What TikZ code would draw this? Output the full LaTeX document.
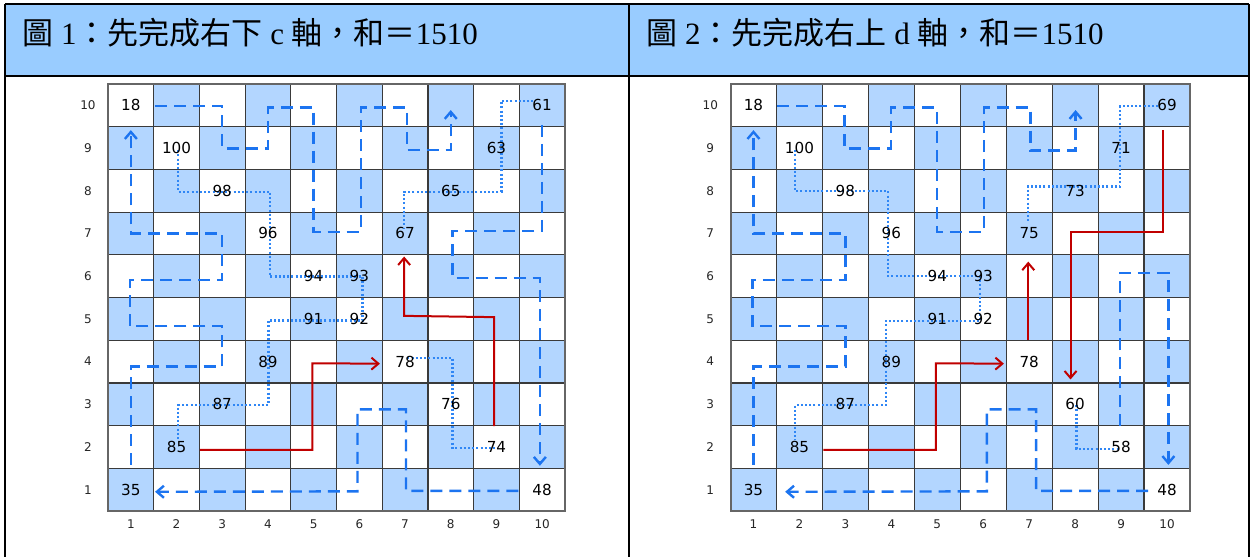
\documentclass[tikz,border=0pt]{standalone}
\usepackage{fontspec}
\setmainfont{Liberation Serif}
\newfontfamily\cjk{Noto Sans CJK TC}
\newfontfamily\numfont{DejaVu Sans}
\usetikzlibrary{arrows.meta}
\definecolor{hdrblue}{HTML}{99CCFF}
\definecolor{cellblue}{HTML}{B3D6FF}
\definecolor{pathblue}{HTML}{1C74F0}
\definecolor{dotblue}{HTML}{2F86F5}
\definecolor{pathred}{HTML}{C00000}
\definecolor{gridgray}{HTML}{3A3A3A}
\tikzset{
  tablerule/.style={line width=1pt, black},
  cellfill/.style={fill=cellblue},
  gridrule/.style={line width=0.6pt, gridgray},
  gridframe/.style={line width=1pt, gray!80!black},
  dashpath/.style={pathblue, line width=1.2pt, dash pattern=on 6pt off 3.5pt},
  dotpath/.style={dotblue, line width=1.1pt, dash pattern=on 1pt off 1.1pt},
  redpath/.style={pathred, line width=1pt},
  tipend/.style={-{Straight Barb[length=3.5pt,width=6pt]}},
  num/.style={font=\numfont\fontsize{7.6}{9}\selectfont, inner sep=0pt},
  axis/.style={font=\numfont\fontsize{6}{7}\selectfont, text=black!85, inner sep=0pt},
  title/.style={font=\fontsize{15.5}{18}\selectfont, anchor=base west, inner sep=0pt},
}
\newcommand\drawboard{%
  \foreach \c in {1,...,10}{\foreach \r in {1,...,10}{%
    \pgfmathtruncatemacro\pty{\c+\r}%
    \ifodd\pty\else\fill[cellfill] (\c-0.5,\r-0.5) rectangle (\c+0.5,\r+0.5);\fi
  }}%
  \foreach \i in {1,...,9}{%
    \draw[gridrule] (\i+0.5,0.5) -- (\i+0.5,10.5);
    \draw[gridrule] (0.5,\i+0.5) -- (10.5,\i+0.5);
  }%
  \draw[gridframe] (0.5,0.5) rectangle (10.5,10.5);
  \foreach \i in {1,...,10}{%
    \node[axis] at (0.06,\i) {\i};
    \node[axis] at (\i,0.2) {\i};
  }%
}
\begin{document}
\begin{tikzpicture}[x=0.5pt,y=-0.5pt]
\useasboundingbox (0,0) rectangle (1254,557);
\fill[white] (0,0) rectangle (1254,557);
% table
\fill[hdrblue] (5,4) rectangle (1249,76);
\draw[tablerule] (5,4) -- (1249,4);
\draw[tablerule] (5,76) -- (1249,76);
\draw[tablerule] (5,4) -- (5,557);
\draw[tablerule] (629,4) -- (629,557);
\draw[tablerule] (1249,4) -- (1249,557);
\node[title] (t1) at (22,45) {{\cjk 圖} 1{\cjk ：先完成右下} c {\cjk 軸，和＝}1510};
\node[title] (t2) at (646,45) {{\cjk 圖} 2{\cjk ：先完成右上} d {\cjk 軸，和＝}1510};

% ---------- left board ----------
\begin{scope}[shift={(42.575pt,-266.175pt)}, x=22.85pt, y=21.35pt]
\drawboard
% dashed paths
\draw[dashpath,tipend] (1,1.58) -- (1,3.88) -- (3,3.88) -- (3,4.83) -- (0.98,4.83) -- (0.98,5.91) -- (3,5.91) -- (3,7) -- (1,7) -- (1,9.42);
\draw[dashpath,tipend] (1.53,9.98) -- (3,9.98) -- (3,8.99) -- (4,8.99) -- (4,9.95) -- (5,9.95) -- (5,7.04) -- (6.03,7.04) -- (6.03,9.95) -- (7.04,9.95) -- (7.04,8.95) -- (8,8.95) -- (8,9.89);
\draw[dashpath,tipend] (10,9.54) -- (10,7.06) -- (8.04,7.06) -- (8.04,5.95) -- (9.95,5.95) -- (9.95,1.56);
\draw[dashpath,tipend] (9.48,0.97) -- (7.02,0.97) -- (7.02,2.88) -- (5.96,2.88) -- (5.96,0.96) -- (1.53,0.95);
% dotted paths
\draw[dotpath] (2.04,8.95) -- (2.04,7.98) -- (4.05,7.98) -- (4.05,5.99) -- (6.07,5.99) -- (6.07,4.96) -- (4.01,4.96) -- (4.01,2.98) -- (2.04,2.98) -- (2.04,2.16);
\draw[dotpath] (9.81,10.11) -- (9.11,10.11) -- (9.11,7.98) -- (6.98,7.98) -- (6.98,7.1);
\draw[dotpath] (7.05,4.09) -- (8.04,4.09) -- (8.04,1.97) -- (9,1.97);
% red paths
\draw[redpath,tipend] (2.51,1.93) -- (4.97,1.93) -- (4.97,3.96) -- (6.45,3.95);
\draw[redpath,tipend] (8.95,2.49) -- (8.95,5.04) -- (6.98,5.07) -- (6.98,6.46);
% numbers
\node[num] (La18) at (1,10) {18};
\node[num] (La100) at (2,9) {100};
\node[num] (La98) at (3,8) {98};
\node[num] (La96) at (4,7) {96};
\node[num] (La94) at (5,6) {94};
\node[num] (La93) at (6,6) {93};
\node[num] (La91) at (5,5) {91};
\node[num] (La92) at (6,5) {92};
\node[num] (La89) at (4,4) {89};
\node[num] (La87) at (3,3) {87};
\node[num] (La85) at (2,2) {85};
\node[num] (La35) at (1,1) {35};
\node[num] (La67) at (7,7) {67};
\node[num] (La65) at (8,8) {65};
\node[num] (La63) at (9,9) {63};
\node[num] (La61) at (10,10) {61};
\node[num] (La78) at (7,4) {78};
\node[num] (La76) at (8,3) {76};
\node[num] (La74) at (9,2) {74};
\node[num] (La48) at (10,1) {48};
\end{scope}

% ---------- right board ----------
\begin{scope}[shift={(353.76pt,-266.175pt)}, x=22.975pt, y=21.35pt]
\drawboard
% dashed paths
\draw[dashpath,tipend] (1,1.58) -- (1,3.88) -- (3,3.88) -- (3,4.83) -- (0.98,4.83) -- (0.98,5.91) -- (3,5.91) -- (3,7) -- (1,7) -- (1,9.42);
\draw[dashpath,tipend] (1.52,9.98) -- (2.98,9.98) -- (2.98,8.99) -- (3.99,8.99) -- (3.99,9.95) -- (4.99,9.95) -- (4.99,7.04) -- (6.02,7.04) -- (6.02,9.95) -- (7.03,9.95) -- (7.03,8.94) -- (8.01,8.94) -- (8.01,9.89);
\draw[dashpath,tipend] (8.98,2.49) -- (8.98,6.08) -- (10.03,6.08) -- (10.03,1.58);
\draw[dashpath,tipend] (9.59,0.97) -- (7.15,0.97) -- (7.15,2.88) -- (6.08,2.88) -- (6.08,0.96) -- (1.69,0.95);
% dotted paths
\draw[dotpath] (1.9,8.95) -- (1.9,8.0) -- (3.93,8.0) -- (3.93,6.0) -- (5.93,6.0) -- (5.93,4.95) -- (3.88,4.95) -- (3.88,2.98) -- (1.9,2.98) -- (1.9,2.16);
\draw[dotpath] (9.81,9.98) -- (8.98,9.98) -- (8.98,8.1) -- (6.97,8.1) -- (6.97,7.24);
\draw[dotpath] (8.03,2.98) -- (8.03,1.95) -- (8.98,1.95);
% red paths
\draw[redpath,tipend] (2.52,1.93) -- (4.97,1.93) -- (4.97,3.96) -- (6.45,3.95);
\draw[redpath,tipend] (6.98,4.5) -- (6.98,6.34);
\draw[redpath,tipend] (9.91,9.42) -- (9.91,7.03) -- (7.9,7.03) -- (7.9,3.58);
% numbers
\node[num] (Rb18) at (1,10) {18};
\node[num] (Rb100) at (2,9) {100};
\node[num] (Rb98) at (3,8) {98};
\node[num] (Rb96) at (4,7) {96};
\node[num] (Rb94) at (5,6) {94};
\node[num] (Rb93) at (6,6) {93};
\node[num] (Rb91) at (5,5) {91};
\node[num] (Rb92) at (6,5) {92};
\node[num] (Rb89) at (4,4) {89};
\node[num] (Rb87) at (3,3) {87};
\node[num] (Rb85) at (2,2) {85};
\node[num] (Rb35) at (1,1) {35};
\node[num] (Rb75) at (7,7) {75};
\node[num] (Rb73) at (8,8) {73};
\node[num] (Rb71) at (9,9) {71};
\node[num] (Rb69) at (10,10) {69};
\node[num] (Rb78) at (7,4) {78};
\node[num] (Rb60) at (8,3) {60};
\node[num] (Rb58) at (9,2) {58};
\node[num] (Rb48) at (10,1) {48};
\end{scope}
\end{tikzpicture}
\end{document}
